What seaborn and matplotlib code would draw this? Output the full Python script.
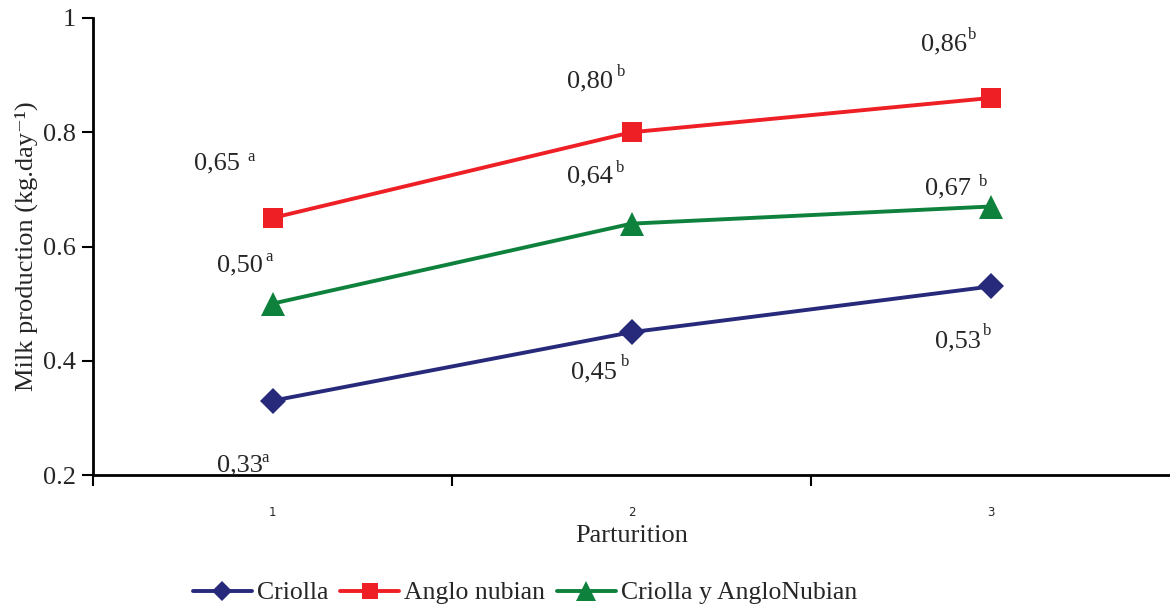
import matplotlib
matplotlib.use('Agg')
import matplotlib.pyplot as plt
import seaborn as sns
import pandas as pd

# data
parturition = [1, 2, 3]
criolla = [0.33, 0.45, 0.53]
anglo_nubian = [0.65, 0.80, 0.86]
criolla_anglo = [0.50, 0.64, 0.67]
series_names = ["Criolla", "Anglo nubian", "Criolla y AngloNubian"]

value_labels = {
    "Criolla": ["0,33", "0,45", "0,53"],
    "Anglo nubian": ["0,65", "0,80", "0,86"],
    "Criolla y AngloNubian": ["0,50", "0,64", "0,67"],
}
letters = {
    "Criolla": ["a", "b", "b"],
    "Anglo nubian": ["a", "b", "b"],
    "Criolla y AngloNubian": ["a", "b", "b"],
}
y_ticks = [0.2, 0.4, 0.6, 0.8, 1.0]
y_tick_labels = ["0.2", "0.4", "0.6", "0.8", "1"]

# label offsets in pixels (number centre, letter position) relative to each point
label_offsets = {
    "Criolla": [(-33, -65, -7, -57), (-38, -40, -6, -30), (-33, -55, -3, -45)],
    "Anglo nubian": [(-56, 54, -21, 61), (-42, 51, -10, 60), (-47, 54, -18, 63)],
    "Criolla y AngloNubian": [(-33, 38, -3, 47), (-42, 47, -11, 56), (-42, 18, -7, 25)],
}

colors = {"Criolla": "#272a7b", "Anglo nubian": "#ee2026", "Criolla y AngloNubian": "#0e823c"}
markers = {"Criolla": "D", "Anglo nubian": "s", "Criolla y AngloNubian": "^"}
marker_sizes = {"Criolla": 13, "Anglo nubian": 14, "Criolla y AngloNubian": 17}

df = pd.DataFrame({
    "Parturition": parturition * 3,
    "Milk": criolla + anglo_nubian + criolla_anglo,
    "Breed": [n for n in series_names for _ in parturition],
})

sns.set_style("white")
plt.rcParams['font.family'] = ['Liberation Serif', 'DejaVu Serif']

fig = plt.figure(figsize=(11.7, 6.05), dpi=100)
ax = fig.add_axes([93 / 1170, 130 / 605, 1 - 93 / 1170, (475 - 18) / 605])

sns.lineplot(data=df, x="Parturition", y="Milk", hue="Breed", palette=colors,
             hue_order=series_names, linewidth=2.8, ax=ax, legend=False)

# markers drawn per series so each can have its own size
for name, vals in zip(series_names, [criolla, anglo_nubian, criolla_anglo]):
    ax.plot(parturition, vals, linestyle='none', marker=markers[name],
            markersize=marker_sizes[name], markeredgewidth=0, color=colors[name])

# value labels with superscript letters
px = 0.72
for name, vals in zip(series_names, [criolla, anglo_nubian, criolla_anglo]):
    for i, (x, v) in enumerate(zip(parturition, vals)):
        dx, dy, lx, ly = label_offsets[name][i]
        ax.annotate(value_labels[name][i], (x, v), xytext=(dx * px, dy * px),
                    textcoords='offset points', ha='center', va='center', fontsize=19)
        ax.annotate(letters[name][i], (x, v), xytext=(lx * px, ly * px),
                    textcoords='offset points', ha='center', va='center', fontsize=12)

ax.set_xlim(0.5, 3.5)
ax.set_ylim(0.2, 1.0)
ax.set_yticks(y_ticks)
ax.set_yticklabels(y_tick_labels, fontsize=19)
ax.set_xticks(parturition)
ax.set_xticklabels([str(p) for p in parturition], fontsize=8.5, family='DejaVu Sans')
ax.set_xticks([0.5, 1.5, 2.5], minor=True)
ax.tick_params(axis='x', which='major', length=0, pad=22, bottom=False)
ax.tick_params(axis='x', which='minor', length=8, width=1.5, direction='out',
               color='black', bottom=True)
ax.tick_params(axis='y', length=8, width=1.5, direction='out', color='black', pad=4, left=True)

for side in ["top", "right"]:
    ax.spines[side].set_visible(False)
for side in ["left", "bottom"]:
    ax.spines[side].set_color('black')
    ax.spines[side].set_linewidth(2)

ax.set_xlabel("Parturition", fontsize=19, labelpad=5)
ax.set_ylabel("Milk production (kg.day\u207b\u00b9)", fontsize=19)
ax.yaxis.set_label_coords((38 - 93) / 1077, 0.5)

handles = [plt.Line2D([], [], color=colors[n], marker=markers[n],
                      markersize=marker_sizes[n] - 3, markeredgewidth=0, linewidth=2.8)
           for n in series_names]
fig.legend(handles, series_names, loc='center', bbox_to_anchor=(525 / 1170, 1 - 593 / 605),
           ncol=3, frameon=False, fontsize=18.5, handlelength=2.3, handletextpad=0.2,
           columnspacing=0.45, borderpad=0)

fig.savefig("out.png", dpi=100)
